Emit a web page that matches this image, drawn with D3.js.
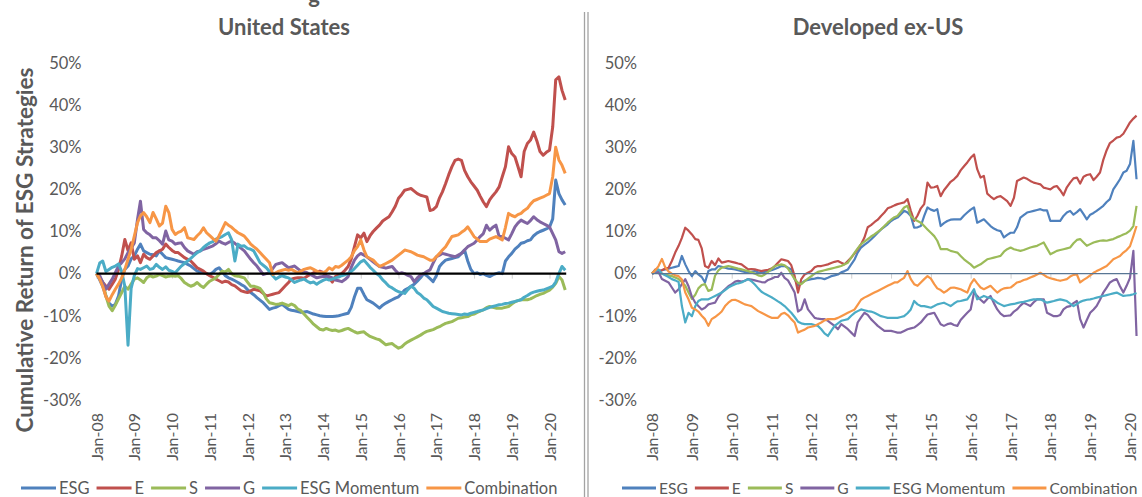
<!DOCTYPE html>
<html>
<head>
<meta charset="utf-8">
<script src="https://cdn.jsdelivr.net/npm/d3@7"></script>
<style>
  body { margin: 0; background: #fff; }
  svg { display: block; font-family: Lato, "Open Sans", sans-serif; }
</style>
</head>
<body>
<script>
// Series names and colours (legend order = drawing order)
var seriesNames = ["ESG", "E", "S", "G", "ESG Momentum", "Combination"];
var seriesColors = ["#4F81BD", "#C0504D", "#9BBB59", "#8064A2", "#4BACC6", "#F79646"];

// Axis ticks
var yTickValues = [-30, -20, -10, 0, 10, 20, 30, 40, 50];
var xTickLabels = ["Jan-08", "Jan-09", "Jan-10", "Jan-11", "Jan-12", "Jan-13", "Jan-14",
                   "Jan-15", "Jan-16", "Jan-17", "Jan-18", "Jan-19", "Jan-20"];

// Monthly observations (cumulative return, %)
var usMonths = d3.timeMonth.range(new Date(2008, 0, 1), new Date(2020, 6, 1));   // Jan-08 .. Jun-20
var exMonths = d3.timeMonth.range(new Date(2008, 0, 1), new Date(2020, 3, 1));   // Jan-08 .. Mar-20 (chart is cut at the edge)

// ---- United States ----
var usESG = [
  0, -1.5, -3, -5.3, -7, -7.7, -7.3, -5.3, -1.3, 1, 1.8, 3.5,
  4.2, 5.8, 7, 5.4, 5, 4.6, 4.5, 4.2, 5.4, 4.6, 3.8, 3.6,
  3.4, 3.2, 3, 2.8, 2.6, 2.2, 1.8, 1.2, 0.6, 0.4, 0.2, 0,
  -0.2, 0.3, 1, 1.4, 0.5, -0.5, -1, -1.3, -1.7, -2.1, -2.6, -3,
  -3.8, -4.5, -5, -5.7, -6.3, -6.9, -7.7, -8.5, -8.2, -8, -7.6, -7.3,
  -7.9, -8.5, -8.7, -8.8, -9, -9.2, -9.1, -9, -9.3, -9.6, -9.8, -10,
  -10.1, -10.2, -10.2, -10.2, -10.1, -10, -9.8, -9.6, -9.4, -8, -5.5, -3.5,
  -3.5, -5, -6.2, -6.6, -7, -7.6, -8.2, -7.5, -7, -6.6, -6.2, -5.8,
  -5.5, -4.7, -3.9, -3.5, -3, -2.5, -1.8, -1, 0, -0.5, -1.2, -1.9,
  -0.5, 1.7, 2.5, 3.2, 3.4, 3.6, 3.8, 4, 4.8, 5.6, 3, 1,
  0, 0.2, -0.2, 0, -0.4, -0.7, -0.3, 0, 0.2, 0, 3, 4,
  4.8, 5.8, 6.4, 7.2, 7.4, 7.8, 8, 9, 9.6, 10, 10.3, 10.6,
  11, 13, 22.2, 19, 17.5, 16.3
];
var usE = [
  0, -1, -2, -3, -3.7, -2.5, -1.3, 1, 4.2, 8.1, 5.5, 7.3,
  3.4, 4.2, 2.6, 4.6, 3.8, 3.4, 4.2, 5, 5.4, 5.8, 7, 6.2,
  5.5, 5, 5, 4.4, 3.8, 3.4, 3, 2.2, 1.4, 1, 0.6, 0,
  -0.5, -0.9, -1.3, -1.7, -2.1, -1.8, -2, -2.6, -2.9, -3.5, -4.1, -4.3,
  -4.5, -4.1, -3.7, -3.9, -4.1, -4.7, -5.3, -5.1, -4.9, -4.7, -4.5, -3.7,
  -2.9, -2.1, -1.3, -1.1, -1, -1, -1.1, -0.6, -0.2, 0.2, 0.4, 0.6,
  0.3, -0.5, -1, -2, -0.7, -0.3, 0, 0.8, 1.7, 3.5, 6.4, 9.2,
  8.5, 9.6, 7.6, 9, 10, 10.8, 11.5, 12.5, 13, 13.5, 14.7, 16,
  17.9, 18.8, 19.8, 20, 20.2, 19.6, 19, 18.6, 18.4, 18.2, 15, 15.2,
  15.9, 18, 19.4, 21.4, 23.5, 25.4, 26.9, 27.2, 26.9, 24.5, 23, 21.8,
  20.8, 19.8, 18.4, 17, 15.9, 17.5, 18.5, 19.4, 20.6, 23, 25.4, 30.1,
  28.5, 27.7, 25.5, 23, 29, 30.9, 31.7, 33.6, 31.5, 29, 28.1, 28.8,
  29.3, 34.8, 46, 46.7, 43.5, 41.2
];
var usS = [
  0, -1, -2.1, -5.3, -7.7, -8.8, -7.5, -6, -4.5, -3, -3.7, -2.5,
  -1.3, -1, -1.5, -2.1, -1, -0.5, -0.8, -0.6, -0.2, -0.5, -0.8, -0.6,
  -0.5, -0.6, -0.5, -1.2, -2.1, -2.6, -3, -2.7, -2.1, -2.8, -3.3, -2.5,
  -1.8, -1.4, -1, -0.2, 0.6, 0.4, 1, 0, -0.5, -0.6, -0.8, -1,
  -2, -3, -3, -3.2, -3.5, -4.5, -6, -6.9, -7.1, -7.3, -7.2, -7,
  -7.3, -7.6, -7.2, -7.6, -8.4, -8.8, -9.6, -10.4, -11.2, -12, -12.6, -13.2,
  -13.4, -13, -13.3, -13.5, -13.4, -13.7, -13.5, -13.2, -13, -13.4, -13.8, -14.1,
  -13.9, -13.8, -14.4, -14.9, -15.2, -15.5, -15.7, -16.3, -16.9, -16.7, -16.6, -17.2,
  -17.7, -17.4, -16.7, -16.2, -15.8, -15.4, -15, -14.6, -14.1, -13.7, -13.5, -13.3,
  -12.9, -12.6, -12.2, -11.8, -11.6, -11.4, -11, -10.6, -10.5, -10.3, -10.2, -9.8,
  -9.6, -9.2, -8.9, -8.6, -8.1, -7.8, -8, -8.2, -8.2, -8.2, -8, -7.8,
  -7.2, -6.7, -6.4, -6.2, -6.2, -6.2, -6, -5.6, -5.2, -4.9, -4.7, -4.3,
  -3.9, -3.2, -2.3, -0.7, -1.5, -3.9
];
var usG = [
  0, -0.5, -2.1, -3.7, -2.5, -1.3, 0.2, 1.8, 2.6, 3.5, 5, 6,
  7.3, 12.9, 17.2, 10.5, 9.7, 9.2, 8.5, 8.5, 7.8, 7, 10.1, 8,
  7.7, 7, 7.2, 7.3, 6.2, 5.4, 5, 4.6, 5.2, 5.4, 5.8, 6,
  6.3, 6.6, 7.1, 7.7, 7.3, 7, 7.4, 7.7, 7.2, 6.6, 6, 5.4,
  4.4, 3.4, 2.6, 1.8, 0.8, -0.2, 0, 0.2, 1.2, 2.2, 2.4, 2.6,
  2, 1.4, 1.6, 1.8, 1.2, 0.6, 0.4, 0.2, -0.2, -0.6, -1, -0.8,
  -0.7, -0.7, -0.7, -1, -1.5, -1.7, -1.9, -1.4, -0.7, 1.5, 3.2, 4.2,
  4.8, 4.4, 4, 3.4, 2.8, 2.2, 1.7, 1.5, 1.3, 1.5, 1.7, 0.8,
  0, 0.2, 0, -0.4, -0.7, -1.9, -1, -0.3, 0, 0.5, 0.9, 2.5,
  4, 4.4, 4.8, 4.6, 4.4, 4.2, 4, 4.4, 4.8, 5.6, 6.4, 6.8,
  7.2, 8, 8.8, 9.5, 11.5, 10.3, 11, 11.5, 8.8, 8.8, 8.4, 8,
  9.5, 11.1, 12, 12.7, 12.3, 11.9, 12.6, 13.5, 12.8, 12.3, 11.9, 11.5,
  11.1, 9.5, 8, 5.2, 4.8, 5.2
];
var usMomentum = [
  0, 2.5, 3, 0.5, 1, 1.5, 1.8, 2.3, 0.5, -3, -17, -3.5,
  -0.5, 1.2, 1, 1.4, 1.8, 1, 1.2, 2.2, 1.5, 1, 1.6, 0.8,
  0.5, 0.2, 1, 1.8, 2.4, 3, 3.6, 4.3, 5, 5.4, 6.2, 6.8,
  7.3, 7.6, 8.2, 8.5, 8.8, 9.3, 9.7, 8, 3, 7, 6.5, 6.6,
  6, 5.8, 5.4, 4, 2.6, 2, 1.4, 0.5, -0.5, -1.3, -0.8, -0.5,
  -0.8, -1, -1.5, -2.1, -1.8, -1.5, -1.3, -1.8, -2.2, -2, -2.5, -2,
  -1.6, -1.3, -1.5, -1.3, -1, -0.8, -0.5, -0.3, 0, 0.5, 1.2, 2,
  2.8, 3.2, 2.4, 1.5, 0.8, 0, -0.5, -1.5, -2.2, -3, -3.4, -3.9,
  -4.3, -4.5, -4.7, -3.8, -3, -3.5, -4.5, -5, -5.8, -6.2, -7, -7.8,
  -8.2, -8.6, -9, -9.2, -9.4, -9.5, -9.6, -9.7, -9.8, -9.6, -9.7, -9.4,
  -9.2, -9, -8.8, -8.6, -8.3, -8, -7.8, -7.6, -7.4, -7.3, -7.1, -7,
  -6.8, -6.6, -6.4, -6.2, -5.6, -5.2, -4.7, -4.4, -4.2, -4, -3.9, -3.6,
  -3.3, -3, -2, 0, 1.7, 0.8
];
var usCombination = [
  0, -1.3, -3, -5.5, -6.5, -5, -3.7, -2.5, -1, 1, 3.4, 5.8,
  8.9, 12.1, 13.7, 14.5, 13.5, 12.1, 14.5, 13, 11.3, 12, 16, 14.5,
  10.5, 9.3, 9.8, 10.1, 10.9, 8.5, 8.3, 8.1, 9, 9.7, 10.9, 9.7,
  9, 8.3, 7.7, 9, 10.5, 12.1, 11.5, 11, 10.3, 9.7, 9.3, 8.9,
  8, 7, 6.4, 5.8, 5, 4.2, 3.4, 2.6, -0.2, 0.2, 0.6, 0.8,
  1, 0.8, 1, 0.6, 0.2, 0.6, 1, 1.2, 1.4, 1, 0.6, 0.2,
  0.2, 0.6, 1.4, 0.9, 1.7, 1.5, 2, 2.6, 3.2, 4, 5.5, 6.4,
  8, 5.6, 4, 3.6, 3.2, 2.4, 1.7, 2, 2.4, 2.8, 3.2, 3.8,
  4.4, 5, 5.6, 5.4, 5.2, 4.8, 4.4, 4.2, 4, 3.6, 3.2, 3.2,
  4, 4.8, 5.6, 6.4, 7.6, 8.8, 9, 9.2, 9.8, 10.3, 11.1, 10,
  8.8, 8.2, 7.6, 7.6, 7.6, 8.2, 8.5, 8.8, 8.4, 8, 11, 14.3,
  13.8, 13.5, 14, 14.3, 15, 15.5, 16.5, 17.3, 17.6, 17.9, 18.2, 18.6,
  19, 23, 30, 27, 25.7, 23.8
];

// ---- Developed ex-US ----
var exESG = [
  0, 0.3, 0.6, 0.8, 1, 1.2, 1.4, 1.6, 1.8, 4.2, 2.2, 0.6,
  -0.6, 0.6, -0.2, -0.8, -2.1, 0.6, 1, 1, 1.8, 1.6, 1.4, 1.2,
  1.1, 1, 0.8, 0.6, 0.4, 0.2, 0.4, 0.6, 0.3, 0.2, 0.4, 0.6,
  0.8, 1.1, 1.4, 1.8, 1.8, 1.4, 1, -1.3, -2.9, -2.3, -1.7, -1.5,
  -1.3, -1.2, -1, -1.1, -1.3, -1, -0.6, -0.4, -0.2, 0.3, 0.6, 1,
  2.2, 3.4, 5, 6.2, 6.8, 7.4, 8.1, 8.9, 9.7, 10.5, 11.1, 11.7,
  12.5, 13, 13.3, 14.1, 14.9, 14.5, 13.7, 10.9, 11, 11.3, 13.7, 15.7,
  15.2, 14.9, 15.3, 11.3, 12, 12.5, 12.8, 12.9, 12.9, 12.9, 13.8, 14.5,
  15.2, 15.7, 12.1, 12.5, 12.9, 12.1, 11.3, 10.7, 10.3, 10.1, 8.6, 9.2,
  9.7, 9.7, 11, 13.3, 13.9, 14.5, 14.7, 14.9, 15.1, 15.3, 15, 15,
  12.5, 12.5, 12.5, 12.5, 13.7, 14.5, 14.9, 14, 14.6, 15.3, 14.1, 12.9,
  14, 14.4, 14.9, 15.5, 16.1, 17, 17.7, 20, 21.2, 22.4, 24, 24.4,
  26, 31.5, 22.4
];
var exE = [
  0, 1, 0.6, 0.8, 1.2, 1.4, 3, 5, 6.6, 8.5, 10.9, 10.2,
  9.3, 8.2, 8, 6, 1.8, 1.4, 3, 2, 3.6, 2.6, 2.8, 3,
  2.8, 2.6, 2.4, 2.2, 1.6, 1, 1.1, 1, 0.8, 0.6, 0.8, 0.9,
  1.2, 1.8, 2.6, 3.4, 3.2, 3, 2, -0.6, -4.5, -1.3, -0.2, 0.2,
  0.6, 1.5, 1.8, 1.8, 2, 2.2, 2.5, 2.8, 3, 2.6, 2.2, 3,
  3.8, 4.8, 5.8, 7, 8.5, 11, 11.5, 12.2, 12.8, 13.7, 14.5, 15.5,
  15.8, 16.2, 16.5, 16.7, 16.9, 17.7, 14.9, 12.5, 13.8, 15.5, 16.5, 21.6,
  20.4, 20.5, 20.8, 18.4, 19.8, 20.8, 21.8, 22.4, 23.2, 24.5, 25.5, 26.4,
  27.5, 28.3, 24.8, 22.8, 23.2, 19, 18.3, 17.7, 18.2, 18.4, 17.8, 17.2,
  16.1, 18, 22, 22.4, 22.8, 22.5, 22, 21.6, 21.4, 21.2, 20.4, 20.2,
  20, 20.6, 20.8, 19.8, 18.6, 20.5, 21.6, 22.6, 22.8, 21.4, 23, 23.4,
  23.6, 22.2, 23, 24, 27, 29.3, 31, 31.6, 32.3, 32.5, 33.2, 34.5,
  35.9, 36.8, 37.5
];
var exS = [
  0, 0.8, 0.4, 0, -0.2, -0.4, -0.6, -0.9, -1.3, -2, -2.9, -4.5,
  -6, -5, -3.5, -2.7, -2.5, -4.1, -3.8, -0.5, 0.8, 1.4, 1.6, 1.8,
  1.6, 1.4, 1.2, 1, 0.8, 0.6, 0.3, 0, -0.4, -0.6, -0.2, 0.4,
  1.1, 1.8, 2, 2.2, 2, 1.2, 0, -1.3, -2.2, -2.5, -1.8, -1.2,
  -0.6, 0, 0.4, 0.6, 0.8, 1, 1.2, 1.4, 1.6, 1.8, 2.2, 2.6,
  3.8, 5, 6, 7, 7.6, 8.2, 8.8, 9.3, 9.9, 10.5, 11.3, 12.1,
  12.8, 13.4, 13.7, 14.7, 15.7, 16.1, 13.7, 12.9, 12.5, 12.1, 11.3, 10.5,
  9.7, 8.9, 7.8, 5.8, 5.8, 5.8, 5.4, 5.2, 5, 4.2, 3.4, 2.8,
  2.2, 1.4, 1.8, 2.2, 2.8, 3.4, 3.6, 3.8, 4, 4.2, 5.2, 5.8,
  6.2, 5.8, 5.6, 5.4, 5.6, 5.9, 6.2, 6.4, 6.6, 7, 7.4, 6,
  4.6, 5, 5.4, 5.6, 5.8, 6, 6.2, 7.2, 8, 8.2, 7.4, 6.6,
  7, 7.4, 7.6, 7.8, 7.9, 7.8, 8, 8.2, 8.6, 8.9, 9.3, 9.6,
  10.2, 11.3, 16.1
];
var exG = [
  0, 0.3, 0.4, -1.3, -1.7, -2.1, -3.3, -4.5, -3.7, -2.5, -1.3, -3,
  -5.5, -6.9, -7.7, -8.5, -8.1, -7.3, -7.1, -6.9, -5.5, -4.5, -3.7, -3,
  -2.5, -1.9, -1.7, -1.9, -1.7, -1.3, -1.4, -1.6, -1.8, -2, -2.1, -1.5,
  -1.2, -0.8, -0.8, 0.2, -1, -1.6, -3, -4.5, -9, -8.5, -6.1, -8.5,
  -9.5, -10.5, -10.7, -10.8, -10.8, -11.2, -11.8, -12.4, -13.2, -12, -12.6, -13.2,
  -14, -14.8, -11.6, -10.4, -9.3, -9.8, -10.8, -11.6, -12.4, -13, -13.6, -13.6,
  -13.6, -13.8, -14, -14, -13.6, -13.2, -13, -12.8, -12.2, -11.6, -10.6, -9.7,
  -9.5, -9.3, -10.6, -12, -12.4, -12, -11.8, -12.2, -12.4, -11, -10.1, -9.3,
  -8.5, -4.5, -5.3, -6.2, -6.9, -6, -5.3, -7, -8.5, -9.5, -10.1, -10,
  -9.9, -9, -8.5, -7.6, -6.9, -7.3, -7.7, -6.8, -6.1, -6.1, -6.1, -9.3,
  -9.7, -10.1, -10.1, -9.8, -8.5, -7.9, -7.7, -7, -6.5, -10.8, -12.8, -11,
  -9.3, -8.5, -7.7, -6.2, -4.5, -3.3, -2.1, -1.6, -1.3, -3, -4.5, -2.9,
  -1, 5.4, -14.8
];
var exMomentum = [
  0, 0.6, 1, 0, -0.4, -0.8, -1.3, -1.6, -2, -7.7, -11.6, -9.3,
  -10.1, -7.7, -6.5, -6.1, -6.1, -6.1, -5.7, -5.3, -4.9, -4.5, -3.9, -3.3,
  -2.9, -2.5, -2.3, -2.1, -1.7, -1.3, -1.8, -2.6, -3.5, -4.3, -4.8, -5.2,
  -5.6, -6.1, -6.6, -7.1, -7.7, -8.5, -9.3, -10.3, -11.4, -11.8, -12, -12,
  -12, -12.2, -12.4, -13.2, -14.2, -14.8, -13.6, -12.4, -11.8, -11.2, -11, -10.8,
  -10, -9.3, -8.9, -8.5, -8.7, -8.9, -9, -9.3, -9.7, -10.1, -10.3, -10.5,
  -10.5, -10.5, -10.5, -10.3, -10.1, -9.4, -8.5, -6.5, -7.3, -7.7, -7.7, -7.9,
  -8.1, -7.7, -7.3, -7.1, -6.9, -7.3, -7.7, -7.1, -6.6, -6.5, -6.3, -6.1,
  -4.9, -3.7, -6.1, -5.7, -5.3, -5.6, -5.8, -6.3, -6.9, -7.3, -7.7, -7.5,
  -7.3, -7.2, -7, -6.8, -6.7, -6.5, -6.3, -6.1, -6.1, -6.1, -6.5, -6.9,
  -6.7, -6.5, -6.3, -6.1, -6.3, -6.5, -7.1, -7.7, -7.2, -6.7, -6.4, -6.2,
  -6.1, -5.9, -5.7, -5.5, -5.3, -5.1, -4.9, -4.7, -4.5, -4.9, -5.3, -5.2,
  -5.1, -4.9, -4.6
];
var exCombination = [
  0, 0.8, 1.8, 3.5, 1.5, 0.5, 0, -0.4, -0.6, -1.4, -4.5, -6.1,
  -8.1, -8.5, -9, -10, -10.8, -12.4, -10.8, -10.3, -9.7, -9, -7.7, -6.9,
  -6.3, -6.2, -6.5, -6.9, -7.3, -7.5, -7.7, -8.3, -8.9, -9.3, -9.7, -10.1,
  -10.5, -10.5, -10.5, -9.6, -9.3, -9.9, -10.8, -11.6, -14, -13.6, -13.3, -12.8,
  -12.6, -12.4, -12, -11.6, -11.1, -10.8, -10.8, -10.8, -10.5, -10.1, -9.7, -9.3,
  -8.9, -8.5, -7.4, -6.2, -5.7, -5.3, -4.9, -4.5, -4.1, -3.7, -3.3, -2.9,
  -2.5, -2.1, -2.1, -1.5, -1, 0.6, -1.3, -2.5, -2.9, -2.1, -1.3, -0.6,
  -1.2, -2.5, -3.5, -3.9, -4.5, -4, -3.4, -3.3, -3.5, -3.7, -4.1, -4.5,
  -2.5, -1.3, -2.3, -3.3, -3.7, -3.3, -2.9, -3.7, -4.5, -3.9, -3.5, -3.4,
  -3.3, -2.7, -2.1, -1.9, -1.5, -1.3, -0.9, -0.6, -0.2, 0.2, -0.3, -0.8,
  -1.1, -1.3, -1.5, -1.7, -1.5, -1.3, -0.7, -0.3, -0.2, -2.1, -1.5, -1,
  -0.4, 0.2, 0.6, 1, 1.4, 1.8, 2.6, 3.4, 3.8, 4.2, 5, 5.6,
  6.5, 8.9, 11.3
];

// ---------------------------------------------------------------
var svgWidth = 1142, svgHeight = 497;
var textColor = "#595959";

var svg = d3.select("body").append("svg")
  .attr("width", svgWidth)
  .attr("height", svgHeight);

// shared vertical scale for both panels
var y = d3.scaleLinear().domain([-30, 50]).range([400, 63]);

// clipped descender of the figure caption above the image
svg.append("text")
  .attr("x", 314).attr("y", 3)
  .attr("text-anchor", "middle")
  .attr("font-size", 22).attr("font-weight", 700)
  .attr("fill", textColor)
  .text("g");

// y-axis title (only on the left)
svg.append("text")
  .attr("transform", "translate(24,250) rotate(-90)")
  .attr("text-anchor", "middle")
  .attr("dominant-baseline", "central")
  .attr("font-size", 22.5).attr("font-weight", 700)
  .attr("fill", textColor)
  .text("Cumulative Return of ESG Strategies");

// double divider between the panels
[584.5, 588].forEach(function(xx) {
  svg.append("line")
    .attr("x1", xx).attr("x2", xx)
    .attr("y1", 12).attr("y2", svgHeight)
    .attr("stroke", "#a3a3a3").attr("stroke-width", 1.3);
});

function drawPanel(p) {
  var g = svg.append("g");
  var x = d3.scaleTime()
    .domain([new Date(2008, 0, 1), new Date(2020, 0, 1)])
    .range([p.xStart, p.xEnd]);

  // title
  g.append("text")
    .attr("x", p.titleX).attr("y", 35)
    .attr("text-anchor", "middle")
    .attr("font-size", 22).attr("font-weight", 700)
    .attr("fill", textColor)
    .text(p.title);

  // y axis labels
  var yAxis = g.append("g")
    .attr("transform", "translate(" + p.xStart + ",0)")
    .call(d3.axisLeft(y).tickValues(yTickValues).tickSize(0).tickPadding(15)
      .tickFormat(function(d) { return d + "%"; }));
  yAxis.select(".domain").remove();
  yAxis.selectAll("text")
    .attr("font-family", "Lato, sans-serif")
    .attr("font-size", 16.5)
    .attr("fill", textColor);

  // year ticks on the zero line
  var yearDates = d3.timeYear.range(new Date(2008, 0, 1), new Date(2020, 1, 1));
  var tickAxis = g.append("g")
    .attr("transform", "translate(0," + y(0) + ")")
    .call(d3.axisBottom(x).tickValues(yearDates).tickSize(5).tickFormat(""));
  tickAxis.select(".domain").remove();
  tickAxis.selectAll("line").attr("stroke", "#d0d0d0");

  // rotated x labels at the bottom
  var xLab = g.append("g")
    .attr("transform", "translate(0,413)")
    .call(d3.axisBottom(x).tickValues(yearDates).tickSize(0)
      .tickFormat(function(d, i) { return xTickLabels[i]; }));
  xLab.select(".domain").remove();
  xLab.selectAll("text")
    .attr("x", 0).attr("y", 0).attr("dy", "0.35em")
    .attr("transform", "rotate(-90)")
    .style("text-anchor", "end")
    .attr("font-family", "Lato, sans-serif")
    .attr("font-size", 16)
    .attr("fill", textColor);

  // series lines
  var line = d3.line()
    .x(function(d) { return x(d.date); })
    .y(function(d) { return y(d.v); });

  p.series.forEach(function(vals, k) {
    var pts = vals.map(function(v, i) { return { date: p.months[i], v: v }; })
      .filter(function(d) { return d.date; });
    g.append("path")
      .datum(pts)
      .attr("fill", "none")
      .attr("stroke", seriesColors[k])
      .attr("stroke-width", p.lineWidth)
      .attr("stroke-linejoin", "round")
      .attr("d", line);
  });

  // zero line drawn on top
  g.append("line")
    .attr("x1", p.xStart)
    .attr("x2", x(p.months[p.months.length - 1]) + 1)
    .attr("y1", y(0)).attr("y2", y(0))
    .attr("stroke", p.zeroColor)
    .attr("stroke-width", p.zeroWidth);

  // legend
  var leg = g.append("g").attr("transform", "translate(" + p.legendStart + ",488)");
  var cx = 0;
  seriesNames.forEach(function(name, k) {
    leg.append("line")
      .attr("x1", cx).attr("x2", cx + p.legendLine)
      .attr("y1", 0).attr("y2", 0)
      .attr("stroke", seriesColors[k]).attr("stroke-width", 3);
    var t = leg.append("text")
      .attr("x", cx + p.legendLine + 3).attr("y", 0)
      .attr("dominant-baseline", "central")
      .attr("font-size", p.legendFont)
      .attr("fill", textColor)
      .text(name);
    cx += p.legendLine + 3 + t.node().getComputedTextLength() + 7;
  });
}

drawPanel({
  title: "United States", titleX: 284,
  xStart: 96.5, xEnd: 549.5,
  months: usMonths,
  series: [usESG, usE, usS, usG, usMomentum, usCombination],
  lineWidth: 3,
  zeroColor: "#000", zeroWidth: 2.2,
  legendStart: 21, legendLine: 35, legendFont: 16.5
});

drawPanel({
  title: "Developed ex-US", titleX: 878,
  xStart: 652, xEnd: 1130,
  months: exMonths,
  series: [exESG, exE, exS, exG, exMomentum, exCombination],
  lineWidth: 2.2,
  zeroColor: "#587694", zeroWidth: 1.3,
  legendStart: 622, legendLine: 34, legendFont: 15.6
});
</script>
</body>
</html>
